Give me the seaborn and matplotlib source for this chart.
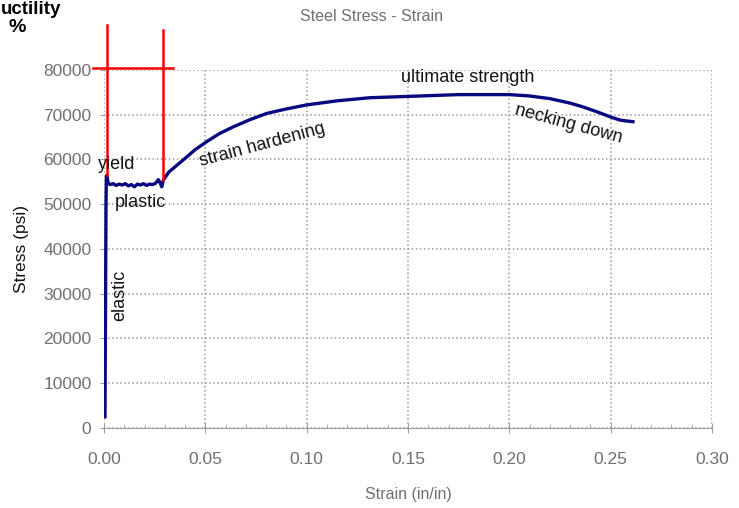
import numpy as np
import matplotlib
matplotlib.use("Agg")
import matplotlib.pyplot as plt
import seaborn as sns

# Curve
strain = [0.0005, 0.0008, 0.0010, 0.0012, 0.0014, 0.0020, 0.0030, 0.0045, 0.0060,
          0.0075, 0.0090, 0.0105, 0.0120, 0.0135, 0.0150, 0.0165, 0.0180, 0.0195,
          0.0210, 0.0225, 0.0240, 0.0255, 0.0268, 0.0277, 0.0285, 0.0293, 0.0320,
          0.0391, 0.0450, 0.0507, 0.0570, 0.0638, 0.0720, 0.0803, 0.0900, 0.1000,
          0.1148, 0.1310, 0.1500, 0.1750, 0.2000, 0.2100, 0.2200, 0.2300, 0.2360,
          0.2430, 0.2500, 0.2546, 0.2580, 0.2610]
stress = [2500, 30000, 50000, 56000, 56500, 54800, 54400, 54600, 54200,
          54500, 54300, 54600, 54100, 54400, 53900, 54500, 54300, 54600,
          54200, 54500, 54400, 54700, 55500, 54800, 53900, 55400, 57200,
          59900, 62200, 64000, 65800, 67300, 68900, 70300, 71300, 72200,
          73100, 73800, 74100, 74500, 74500, 74200, 73600, 72600, 71800,
          70700, 69500, 68800, 68600, 68450]

x_ticks = [0.00, 0.05, 0.10, 0.15, 0.20, 0.25, 0.30]
y_ticks = [0, 10000, 20000, 30000, 40000, 50000, 60000, 70000, 80000]

# red ductility markers (strain at yield and at end of plastic plateau)
yield_strain = 0.0016
plateau_end = 0.029
mark_stress = 80500

plt.rcParams['font.family'] = ['Liberation Sans', 'DejaVu Sans']
grey = '#707070'
ink = '#141414'

fig = plt.figure(figsize=(7.39, 5.08), dpi=100)
ax = fig.add_axes([0.1407, 0.1575, 0.8228, 0.7047])

sns.lineplot(x=strain, y=stress, sort=False, estimator=None, color='#0a0a80',
             linewidth=2.4, ax=ax)

ax.set_xlim(0, 0.30)
ax.set_ylim(0, 80000)
ax.set_xticks(x_ticks)
ax.set_xticklabels([f"{t:.2f}" for t in x_ticks])
ax.set_yticks(y_ticks)
ax.set_yticklabels([str(t) for t in y_ticks])
ax.set_xticks(np.arange(0, 0.301, 0.01), minor=True)

ax.grid(True, which='major', color='#9a9a9a', linestyle=':', linewidth=1.1)
for s in ['top', 'right', 'left']:
    ax.spines[s].set_visible(False)
ax.spines['bottom'].set_color('#a0a0a0')
ax.tick_params(axis='x', which='major', direction='inout', length=7, color='#a0a0a0',
               labelsize=12.5, labelcolor=grey, pad=14)
ax.tick_params(axis='x', which='minor', direction='in', length=3, color='#a0a0a0')
ax.tick_params(axis='y', direction='out', length=3, color='#a0a0a0',
               labelsize=12.5, labelcolor=grey, pad=6)

ax.set_xlabel('Strain (in/in)', fontsize=11.5, color=grey, labelpad=14)
ax.set_ylabel('Stress (psi)', fontsize=12.5, color=ink, labelpad=10)

fig.text(0.503, 0.967, 'Steel Stress - Strain', ha='center', va='center',
         fontsize=11.5, color=grey)

# red lines
ax.plot([yield_strain, yield_strain], [56500, 90000], color='red', lw=1.8, clip_on=False)
ax.plot([plateau_end, plateau_end], [55500, 89000], color='red', lw=1.8, clip_on=False)
ax.plot([-0.0054, 0.034], [mark_stress, mark_stress], color='red', lw=1.8, clip_on=False)

# annotations
fs = 13
ax.text(0.0064, 58800, 'yield', fontsize=fs, color=ink, ha='center', va='center')
ax.text(0.0178, 50500, 'plastic', fontsize=fs, color=ink, ha='center', va='center')
ax.text(0.0079, 29700, 'elastic', fontsize=fs, color=ink, rotation=90,
        ha='center', va='center')
ax.text(0.078, 63300, 'strain hardening', fontsize=fs, color=ink,
        rotation=15, ha='center', va='center', rotation_mode='anchor')
ax.text(0.1796, 78400, 'ultimate strength', fontsize=fs, color=ink,
        ha='center', va='center')
ax.text(0.229, 68000, 'necking down', fontsize=fs, color=ink,
        rotation=-15, ha='center', va='center', rotation_mode='anchor')

fig.text(0.001, 0.998, 'uctility', fontsize=13.5, fontweight='bold', ha='left', va='top')
fig.text(0.012, 0.945, '%', fontsize=14, fontweight='bold', ha='left', va='center')

fig.savefig('out.png', dpi=100)
